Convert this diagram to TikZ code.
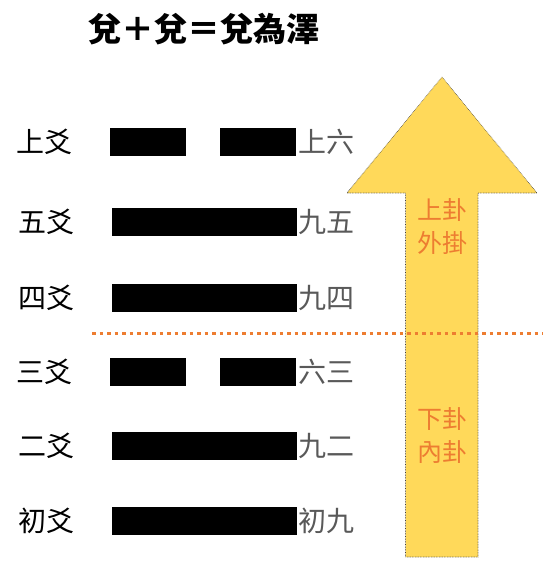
\documentclass[tikz,border=0pt]{standalone}
\usepackage{fontspec}
\setmainfont{Noto Sans CJK TC}
\usepackage{xcolor}
\usepackage{tikz}
\usetikzlibrary{positioning}

\definecolor{arrowgold}{HTML}{FFD95A}
\definecolor{lineorange}{HTML}{ED7D31}
\definecolor{namegray}{HTML}{595959}

\begin{document}
\begin{tikzpicture}[
			x=1pt, y=-1pt,
			yangbar/.style = {rectangle, fill=black, inner sep=0pt,
					minimum width=185pt, minimum height=28.5pt},
			yinbar/.style = {rectangle, fill=black, inner sep=0pt,
					minimum width=76pt, minimum height=28.5pt},
			yaolabel/.style = {inner sep=0pt, font=\fontsize{28}{30}\selectfont},
			yaoname/.style = {inner sep=0pt, text=namegray, font=\fontsize{28}{30}\selectfont},
			guaname/.style = {inner sep=0pt, text=lineorange, align=center,
					font=\fontsize{25}{33}\selectfont},
			divider/.style = {draw=lineorange, line width=3pt, dash pattern=on 3.5pt off 4pt},
		]
		\useasboundingbox (0,0) rectangle (543,566);

		% Title
		\node [font=\bfseries\fontsize{33}{36}\selectfont] (title) at (204,29) {兌＋兌＝兌為澤};

		% Arrow (upward)
		\path [fill=arrowgold, draw=black!75, densely dotted, line width=0.6pt]
			(442,77) -- (537,193) -- (478,193) -- (478,557)
			-- (405.5,557) -- (405.5,193) -- (347,193) -- cycle;

		% Lines of the hexagram, top to bottom
		\node [yinbar] (topl) at (148,142) {};
		\node [yinbar, right=34pt of topl] (topr) {};
		\node [yangbar] (fifth) at (204,222) {};
		\node [yangbar] (fourth) at (204,298) {};
		\node [yinbar] (thirdl) at (148,372) {};
		\node [yinbar, right=34pt of thirdl] (thirdr) {};
		\node [yangbar] (second) at (204,446) {};
		\node [yangbar] (first) at (204,521) {};

		% Position labels
		\node [yaolabel, left=37pt of topl] (toppos) {上爻};
		\node [yaolabel, left=37pt of fifth] (fifthpos) {五爻};
		\node [yaolabel, left=37pt of fourth] (fourthpos) {四爻};
		\node [yaolabel, left=37pt of thirdl] (thirdpos) {三爻};
		\node [yaolabel, left=37pt of second] (secondpos) {二爻};
		\node [yaolabel, left=37pt of first] (firstpos) {初爻};

		% Line names
		\node [yaoname, right=2pt of topr] (topname) {上六};
		\node [yaoname, right=2pt of fifth] (fifthname) {九五};
		\node [yaoname, right=2pt of fourth] (fourthname) {九四};
		\node [yaoname, right=2pt of thirdr] (thirdname) {六三};
		\node [yaoname, right=2pt of second] (secondname) {九二};
		\node [yaoname, right=2pt of first] (firstname) {初九};

		% Trigram names inside the arrow
		\node [guaname] (upper) at (442,227) {上卦\\外掛};
		\node [guaname] (lower) at (442,436) {下卦\\內卦};

		% Divider between the trigrams
		\coordinate (divl) at (92,333);
		\coordinate (divr) at (543,333);
		\path [divider] (divl) -- (divr);
	\end{tikzpicture}
\end{document}
